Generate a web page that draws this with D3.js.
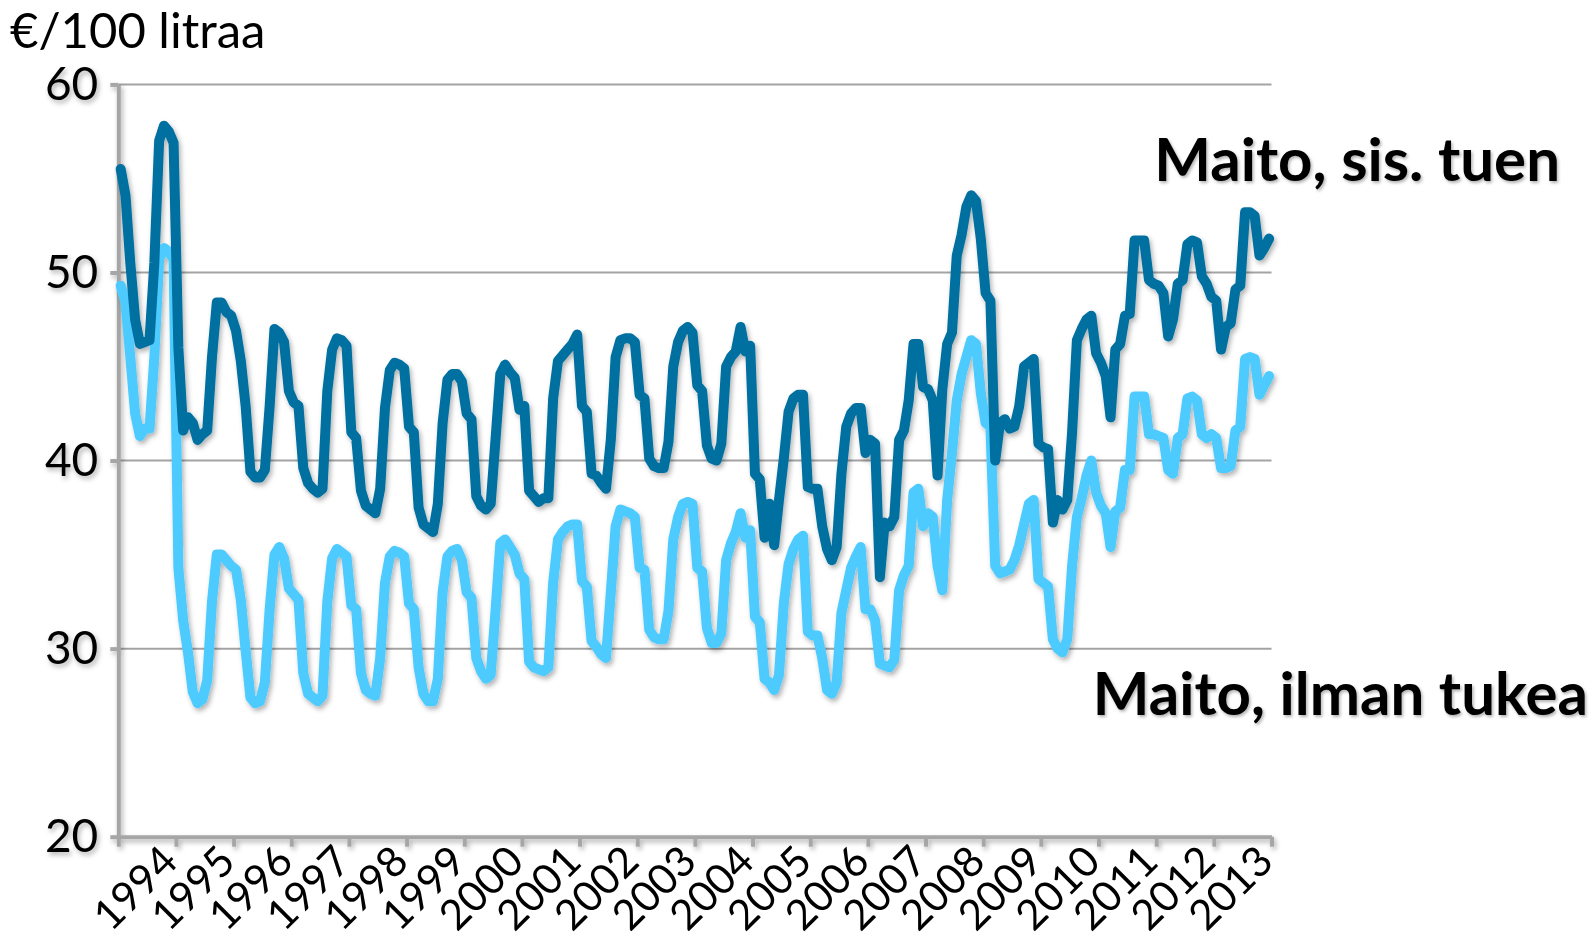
<!DOCTYPE html>
<html><head><meta charset="utf-8">
<script src="https://cdnjs.cloudflare.com/ajax/libs/d3/7.8.5/d3.min.js"></script>
<style>body{margin:0;background:#fff;overflow:hidden}</style>
</head><body>
<svg id="c" width="1594" height="944"></svg>
<script>
// ---------- data ----------
const years = [1994,1995,1996,1997,1998,1999,2000,2001,2002,2003,2004,2005,2006,2007,2008,2009,2010,2011,2012,2013];
const yTicks = [20,30,40,50,60];
const yTitle = "€/100 litraa";
const seriesNames = ["Maito, sis. tuen", "Maito, ilman tukea"];
// monthly values Jan..Dec per row, 1994-2013
const sisTuen = [
 55.5,54.1,50.5,47.5,46.2,46.3,46.4,50.5,57.0,57.8,57.5,56.9,
 46.0,41.6,42.3,42.0,41.1,41.4,41.6,45.5,48.4,48.4,47.9,47.7,
 46.9,45.3,42.9,39.4,39.1,39.1,39.5,42.9,47.0,46.8,46.3,43.7,
 43.1,42.9,39.6,38.8,38.5,38.3,38.5,43.7,45.9,46.5,46.4,46.1,
 41.5,41.2,38.4,37.6,37.4,37.2,38.5,42.8,44.8,45.2,45.1,44.9,
 41.8,41.5,37.5,36.6,36.4,36.2,37.7,42.0,44.3,44.6,44.6,44.2,
 42.5,42.2,38.1,37.6,37.4,37.7,41.1,44.6,45.1,44.7,44.4,42.7,
 42.9,38.4,38.1,37.8,38.0,38.0,43.3,45.3,45.6,45.9,46.2,46.7,
 42.9,42.6,39.3,39.2,38.8,38.5,41.1,45.5,46.4,46.5,46.5,46.3,
 43.5,43.3,40.1,39.7,39.6,39.6,41.0,45.0,46.3,46.9,47.1,46.8,
 44.0,43.7,40.8,40.1,40.0,40.9,45.0,45.5,45.8,47.1,45.8,46.1,
 39.3,39.0,35.9,37.7,35.5,37.9,40.1,42.6,43.3,43.5,43.5,38.6,
 38.5,38.5,36.5,35.3,34.7,35.4,39.3,41.8,42.5,42.8,42.8,40.4,
 41.1,40.9,33.8,36.7,36.5,37.0,41.1,41.6,43.2,46.2,46.2,43.9,
 43.8,43.2,39.2,43.8,46.2,46.8,50.9,52.0,53.5,54.1,53.8,51.8,
 48.9,48.5,40.0,42.0,42.2,41.7,41.8,42.9,45.0,45.2,45.4,40.9,
 40.7,40.6,36.7,37.9,37.4,37.9,41.5,46.4,47.0,47.5,47.7,45.7,
 45.2,44.5,42.3,45.9,46.2,47.7,47.8,51.7,51.7,51.7,49.6,49.4,
 49.3,48.9,46.6,47.5,49.4,49.6,51.5,51.7,51.6,49.8,49.4,48.7,
 48.5,45.9,47.1,47.3,49.1,49.3,53.2,53.2,53.0,50.9,51.3,51.8
];
const ilmanTukea = [
 49.3,48.4,45.5,42.5,41.3,41.7,41.7,45.5,50.7,51.3,51.1,50.7,
 34.3,31.5,29.8,27.7,27.1,27.3,28.3,32.5,35.0,35.0,34.7,34.4,
 34.2,32.6,29.9,27.4,27.1,27.2,28.2,32.1,35.0,35.4,34.8,33.2,
 32.9,32.6,28.7,27.6,27.4,27.2,27.5,32.5,34.8,35.3,35.1,34.9,
 32.3,32.1,28.7,27.8,27.6,27.5,29.5,33.5,34.9,35.2,35.1,34.9,
 32.4,32.1,29.0,27.6,27.2,27.2,28.4,33.0,34.9,35.2,35.3,34.7,
 33.0,32.7,29.5,28.8,28.4,28.6,32.0,35.6,35.8,35.4,35.0,34.0,
 33.7,29.3,29.0,28.9,28.8,29.0,33.5,35.8,36.2,36.5,36.6,36.6,
 33.6,33.3,30.4,30.1,29.7,29.5,33.0,36.5,37.4,37.3,37.2,37.0,
 34.3,34.2,31.0,30.6,30.5,30.5,32.0,35.8,37.0,37.7,37.8,37.7,
 34.3,34.1,31.1,30.3,30.3,30.8,34.7,35.6,36.2,37.2,35.9,36.3,
 31.7,31.4,28.4,28.2,27.8,28.6,32.4,34.5,35.3,35.8,36.0,30.9,
 30.7,30.7,29.5,27.8,27.6,28.2,31.9,33.1,34.3,34.9,35.4,32.1,
 32.1,31.5,29.2,29.1,29.0,29.4,33.1,33.9,34.4,38.3,38.5,36.5,
 37.2,37.0,34.4,33.1,37.9,40.4,43.2,44.6,45.5,46.4,46.2,43.6,
 42.0,41.8,34.4,34.0,34.1,34.2,34.7,35.5,36.6,37.7,37.9,33.7,
 33.5,33.3,30.5,30.0,29.8,30.5,34.4,37.0,38.0,39.2,40.0,38.3,
 37.6,37.2,35.4,37.3,37.5,39.5,39.5,43.4,43.4,43.4,41.4,41.4,
 41.3,41.2,39.5,39.3,41.2,41.4,43.3,43.4,43.2,41.4,41.2,41.4,
 41.2,39.6,39.6,39.7,41.6,41.8,45.4,45.5,45.4,43.5,44.0,44.5
];

// ---------- layout ----------
const L = 118.3, R = 1271.5, T = 84.4, B = 836.7;
const FONT = "Lato, 'Open Sans', sans-serif";
const nMonths = years.length * 12;

const svg = d3.select("#c");
const defs = svg.append("defs");
const f = defs.append("filter").attr("id","sh").attr("x","-5%").attr("y","-5%").attr("width","110%").attr("height","115%");
f.append("feDropShadow").attr("dx",2).attr("dy",3).attr("stdDeviation",2.5).attr("flood-color","#000").attr("flood-opacity",0.3);
const ft = defs.append("filter").attr("id","tsh").attr("x","-5%").attr("y","-10%").attr("width","110%").attr("height","130%");
ft.append("feDropShadow").attr("dx",1.5).attr("dy",2).attr("stdDeviation",1.5).attr("flood-color","#000").attr("flood-opacity",0.3);

const x = d3.scaleLinear().domain([0, nMonths]).range([L, R]);
const y = d3.scaleLinear().domain([20, 60]).range([B, T]);

// gridlines
svg.append("g").selectAll("line").data(yTicks.filter(v => v > 20)).join("line")
  .attr("x1", L).attr("x2", R).attr("y1", d => y(d)).attr("y2", d => y(d))
  .attr("stroke", "#a3a3a3").attr("stroke-width", 2);

// axes
const axG = svg.append("g").attr("filter","url(#sh)");
const yAxis = axG.append("g").attr("transform", `translate(${L},0)`)
  .call(d3.axisLeft(y).tickValues(yTicks).tickSize(8).tickSizeOuter(0).tickPadding(12).tickFormat(d3.format("d")));
const xAxis = axG.append("g").attr("transform", `translate(0,${B})`)
  .call(d3.axisBottom(x).tickValues(d3.range(0, nMonths + 1, 12)).tickSize(10).tickSizeOuter(0).tickFormat(""));
[yAxis, xAxis].forEach(a => {
  a.select(".domain").attr("stroke", "#a6a6a6").attr("stroke-width", 4);
  a.selectAll(".tick line").attr("stroke", "#a6a6a6").attr("stroke-width", 4);
});
yAxis.selectAll(".tick text").attr("font-family", FONT).attr("font-size", 46).attr("fill", "#000");

// x labels (one per year)
svg.append("g").selectAll("text").data(years).join("text")
  .attr("transform", (d, i) => `translate(${x(i * 12 + 6) - 13},887) rotate(-45)`)
  .attr("text-anchor", "middle").attr("dominant-baseline", "central")
  .attr("font-family", FONT).attr("font-size", 42).attr("fill", "#000")
  .text(d => d);

// y title
svg.append("text").attr("x", 10).attr("y", 48).attr("font-family", FONT).attr("font-size", 49).attr("fill", "#000").text(yTitle);

// lines
const line = d3.line().x((d, i) => x(i + 0.5)).y(d => y(d));
const lg = svg.append("g").attr("filter","url(#sh)");
lg.append("path").datum(ilmanTukea).attr("d", line).attr("fill","none").attr("stroke","#4dcbff")
  .attr("stroke-width", 10).attr("stroke-linejoin","round").attr("stroke-linecap","round");
lg.append("path").datum(sisTuen).attr("d", line).attr("fill","none").attr("stroke","#0070a0")
  .attr("stroke-width", 10).attr("stroke-linejoin","round").attr("stroke-linecap","round");

// series labels
const ag = svg.append("g").attr("filter","url(#tsh)").attr("font-family", FONT).attr("font-weight", 700)
  .attr("font-size", 60).attr("fill","#000").attr("text-anchor","end");
ag.append("text").attr("x", 1560).attr("y", 181).text(seriesNames[0]);
ag.append("text").attr("x", 1588).attr("y", 715).text(seriesNames[1]);
</script>
</body></html>
